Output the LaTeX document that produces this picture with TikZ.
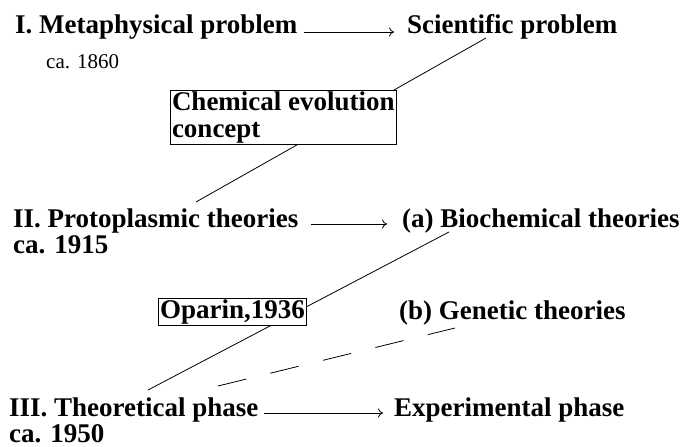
\documentclass[tikz,border=0pt]{standalone}
\usepackage{fontspec}
\setmainfont{Liberation Serif}
\usetikzlibrary{arrows.meta}
\begin{document}
\begin{tikzpicture}[
  x=1pt, y=-1pt,
  lbl/.style={anchor=base west, inner sep=0pt, font=\fontsize{27}{27}\selectfont\bfseries},
  yr/.style={anchor=base west, inner sep=0pt, font=\fontsize{21}{24}\selectfont},
  tbox/.style={draw, fill=white, line width=1pt, inner sep=1.5pt, align=left, anchor=north west,
    font=\fontsize{27}{27}\selectfont\bfseries},
  arr/.style={-{To[length=5pt,width=9pt]}, line width=0.8pt},
  link/.style={line width=0.8pt}
]
  \useasboundingbox (0,0) rectangle (681,447);

  \node[lbl] (meta) at (15, 33) {I. Metaphysical problem};
  \node[lbl] (sci) at (407, 33) {Scientific problem};
  \node[yr] (c1860) at (46, 68) {ca. 1860};

  \node[lbl] (proto) at (13, 227) {II. Protoplasmic theories};
  \node[lbl] (bio) at (402, 227) {(a) Biochemical theories};
  \node[lbl] (c1915) at (13, 253) {ca. 1915};

  \node[lbl] (gen) at (399, 319) {(b) Genetic theories};

  \node[lbl] (theo) at (9, 416) {III. Theoretical phase};
  \node[lbl] (exper) at (394, 416) {Experimental phase};
  \node[lbl] (c1950) at (9, 442) {ca. 1950};

  \draw[arr] ([xshift=6pt, yshift=1pt]meta.base east) -- ([xshift=-13pt, yshift=1pt]sci.base west);
  \draw[arr] ([xshift=12pt, yshift=3pt]proto.base east) -- ([xshift=-15pt, yshift=3pt]bio.base west);
  \draw[arr] ([xshift=5pt, yshift=3pt]theo.base east) -- ([xshift=-11pt, yshift=3pt]exper.base west);

  \draw[link] ([xshift=79pt, yshift=-5pt]sci.base west) -- ([xshift=183pt, yshift=25pt]proto.base west);
  \draw[link] ([xshift=47pt, yshift=-5pt]bio.base west) -- ([xshift=139pt, yshift=26pt]theo.base west);
  \draw[link, dash pattern=on 29pt off 25pt] ([xshift=209pt, yshift=30pt]theo.base west) -- ([xshift=56pt, yshift=-9pt]gen.base west);

  \node[tbox] (chem) at (170, 90) {Chemical evolution\\concept};
  \node[tbox] (oparin) at (158, 298) {Oparin,1936};
\end{tikzpicture}
\end{document}
